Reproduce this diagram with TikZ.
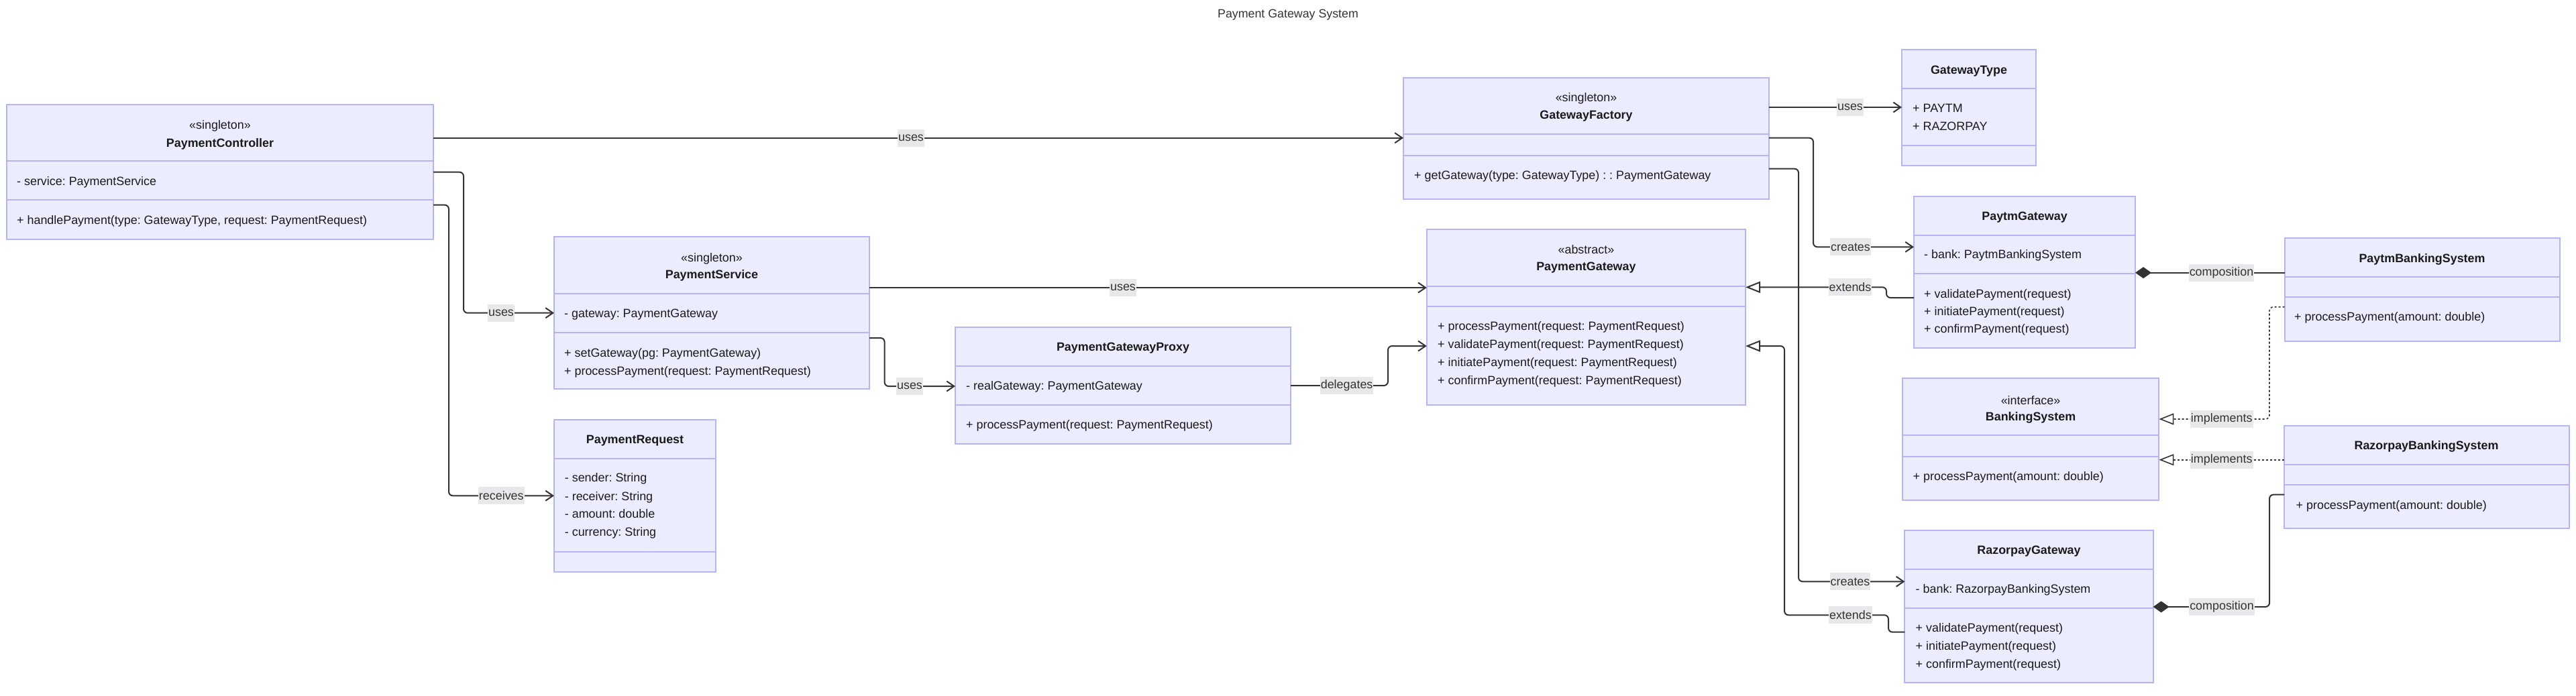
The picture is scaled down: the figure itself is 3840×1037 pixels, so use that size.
\documentclass[tikz,border=0pt]{standalone}
\usepackage{fontspec}
\setmainfont{Liberation Sans}
\usetikzlibrary{arrows.meta}
\frenchspacing
\definecolor{boxfill}{HTML}{ECECFF}
\definecolor{boxline}{HTML}{B5B5F4}
\definecolor{lnk}{HTML}{333333}
\definecolor{lblbg}{HTML}{E8E8EA}
\definecolor{txt}{HTML}{1A1A1A}
\tikzset{
 classbox/.style={draw=boxline, fill=boxfill, line width=2pt, inner sep=0pt, outer sep=0pt, anchor=north west},
 divider/.style={draw=boxline, line width=2pt},
 ttl/.style={font=\fontsize{17.9}{21}\selectfont\bfseries, text=txt, inner sep=0pt},
 stereo/.style={font=\fontsize{17.9}{21}\selectfont, text=txt, inner sep=0pt},
 memtxt/.style={font=\fontsize{17.9}{21}\selectfont, text=txt, inner sep=0pt, anchor=west, text height=13pt, text depth=4pt},
 link/.style={draw=lnk, line width=2pt, rounded corners=6pt},
 dep/.style={link, -{Straight Barb[length=11pt,width=15pt]}},
 gen/.style={link, -{Triangle[length=22pt,width=17pt,fill=white]}},
 real/.style={link, line width=1.6pt, dash pattern=on 3pt off 3pt, -{Triangle[length=22pt,width=17pt,fill=white,line width=1.6pt]}},
 comp/.style={link, {Diamond[length=24pt,width=17pt]}-},
 lbl/.style={fill=lblbg, font=\fontsize{17.9}{21}\selectfont, text=lnk, inner xsep=1pt, inner ysep=0pt, minimum height=26pt},
}
\newcommand{\umlbox}[7]{%
 \node[classbox, minimum width={(#4-#2)*1pt}, minimum height={(#5-#3)*1pt}] (#1) at (#2,#3) {};
 \draw[divider] (#1.west |- 0,#6) -- (#1.east |- 0,#6);
 \draw[divider] (#1.west |- 0,#7) -- (#1.east |- 0,#7);
}
\newcommand{\mem}[4]{\node[memtxt] (#1) at (#2,#3) {#4};}
\begin{document}
\begin{tikzpicture}[x=1pt,y=-1pt]
\useasboundingbox (0,0) rectangle (3840,1037);
\node[font=\fontsize{17.8}{21}\selectfont, text=lnk, inner sep=0pt] (title) at (1920,22) {Payment Gateway System};

% ---------- class boxes ----------
\umlbox{pc}{10}{155.7}{646}{356.7}{240}{298.3}
\umlbox{gf}{2092}{115.7}{2637}{296.7}{200}{231.7}
\umlbox{gt}{2835}{74}{3034.5}{247.3}{131.7}{216.7}
\umlbox{ps}{826}{353.3}{1296}{580}{438.3}{495.7}
\umlbox{preq}{826}{625.7}{1067}{853.3}{683.7}{822.7}
\umlbox{proxy}{1424}{488.3}{1924}{662}{546}{604}
\umlbox{pg}{2126.8}{341.7}{2602}{604}{426.7}{457.3}
\umlbox{paytm}{2853}{292.7}{3183}{519.3}{350.7}{408.3}
\umlbox{pbank}{3405.6}{355}{3815.5}{509}{412.7}{443.3}
\umlbox{bank}{2835.7}{564.3}{3218.4}{746}{649.3}{680.7}
\umlbox{rbank}{3405}{635}{3829.7}{788}{692.7}{723.3}
\umlbox{razor}{2839.4}{791}{3209.6}{1018.3}{849.3}{906.7}

% ---------- titles ----------
\node[stereo] (pc-s) at (328,188.3) {«singleton»};
\node[ttl] (pc-t) at (328,215) {PaymentController};
\node[stereo] (gf-s) at (2364.5,147.3) {«singleton»};
\node[ttl] (gf-t) at (2364.5,173.3) {GatewayFactory};
\node[ttl] (gt-t) at (2935,105.7) {GatewayType};
\node[stereo] (ps-s) at (1061,385.7) {«singleton»};
\node[ttl] (ps-t) at (1061,411) {PaymentService};
\node[ttl] (preq-t) at (946.5,657.3) {PaymentRequest};
\node[ttl] (proxy-t) at (1674,519.3) {PaymentGatewayProxy};
\node[stereo] (pg-s) at (2364.4,372.3) {«abstract»};
\node[ttl] (pg-t) at (2364.4,399.3) {PaymentGateway};
\node[ttl] (paytm-t) at (3018,324.3) {PaytmGateway};
\node[ttl] (pbank-t) at (3610.5,386.7) {PaytmBankingSystem};
\node[stereo] (bank-s) at (3027,597.3) {«interface»};
\node[ttl] (bank-t) at (3027,623.3) {BankingSystem};
\node[ttl] (rbank-t) at (3617,666) {RazorpayBankingSystem};
\node[ttl] (razor-t) at (3024.5,822.3) {RazorpayGateway};

% ---------- members ----------
\mem{pc-a1}{25}{272.3}{- service: PaymentService}
\mem{pc-m1}{25}{330}{+ handlePayment(type: GatewayType, request: PaymentRequest)}
\mem{gf-m1}{2108}{262.7}{+ getGateway(type: GatewayType) : : PaymentGateway}
\mem{gt-a1}{2851}{162.7}{+ PAYTM}
\mem{gt-a2}{2851}{190}{+ RAZORPAY}
\mem{ps-a1}{841}{469}{- gateway: PaymentGateway}
\mem{ps-m1}{841}{528.3}{+ setGateway(pg: PaymentGateway)}
\mem{ps-m2}{841}{555}{+ processPayment(request: PaymentRequest)}
\mem{preq-a1}{841.7}{714}{- sender: String}
\mem{preq-a2}{841.7}{741.7}{- receiver: String}
\mem{preq-a3}{841.7}{768.3}{- amount: double}
\mem{preq-a4}{841.7}{795}{- currency: String}
\mem{proxy-a1}{1440}{577.3}{- realGateway: PaymentGateway}
\mem{proxy-m1}{1440}{635}{+ processPayment(request: PaymentRequest)}
\mem{pg-m1}{2143}{487.7}{+ processPayment(request: PaymentRequest)}
\mem{pg-m2}{2143}{515}{+ validatePayment(request: PaymentRequest)}
\mem{pg-m3}{2143}{542.3}{+ initiatePayment(request: PaymentRequest)}
\mem{pg-m4}{2143}{569}{+ confirmPayment(request: PaymentRequest)}
\mem{paytm-a1}{2868}{381}{- bank: PaytmBankingSystem}
\mem{paytm-m1}{2868}{440}{+ validatePayment(request)}
\mem{paytm-m2}{2868}{466}{+ initiatePayment(request)}
\mem{paytm-m3}{2868}{492.3}{+ confirmPayment(request)}
\mem{pbank-m1}{3420}{474.3}{+ processPayment(amount: double)}
\mem{bank-m1}{2851.5}{711.7}{+ processPayment(amount: double)}
\mem{rbank-m1}{3422.5}{755}{+ processPayment(amount: double)}
\mem{razor-a1}{2855.5}{880}{- bank: RazorpayBankingSystem}
\mem{razor-m1}{2855.5}{938.3}{+ validatePayment(request)}
\mem{razor-m2}{2855.5}{965}{+ initiatePayment(request)}
\mem{razor-m3}{2855.5}{992.3}{+ confirmPayment(request)}

% ---------- connectors ----------
\draw[dep] (pc.east |- 0,205.7) -- (gf.west |- 0,205.7);
\draw[dep] (pc.east |- 0,256.7) -- (691,256.7) -- (691,466.7) -- (ps.west |- 0,466.7);
\draw[dep] (pc.east |- 0,305.7) -- (669,305.7) -- (669,739.3) -- (preq.west |- 0,739.3);
\draw[dep] (ps.east |- 0,429) -- (pg.west |- 0,429);
\draw[dep] (ps.east |- 0,504) -- (1318.6,504) -- (1318.6,576) -- (proxy.west |- 0,576);
\draw[dep] (proxy.east |- 0,575) -- (2069,575) -- (2069,516) -- (pg.west |- 0,516);
\draw[dep] (gf.east |- 0,160) -- (gt.west |- 0,160);
\draw[dep] (gf.east |- 0,205.7) -- (2703,205.7) -- (2703,368.3) -- (paytm.west |- 0,368.3);
\draw[dep] (gf.east |- 0,251.7) -- (2681,251.7) -- (2681,867.3) -- (razor.west |- 0,867.3);
\draw[gen] (paytm.west |- 0,444) -- (2812,444) -- (2812,428.3) -- (pg.east |- 0,428.3);
\draw[gen] (razor.west |- 0,942.7) -- (2815,942.7) -- (2815,917.3) -- (2660,917.3) -- (2660,516) -- (pg.east |- 0,516);
\draw[comp] (paytm.east |- 0,406.7) -- (pbank.west |- 0,406.7);
\draw[comp] (razor.east |- 0,905) -- (3383,905) -- (3383,737.7) -- (rbank.west |- 0,737.7);
\draw[real] (pbank.west |- 0,457.7) -- (3383,457.7) -- (3383,625) -- (bank.east |- 0,625);
\draw[real] (rbank.west |- 0,685.7) -- (bank.east |- 0,685.7);

% ---------- labels ----------
\node[lbl] (lb1) at (1358,205.7) {uses};
\node[lbl] (lb2) at (747,466.7) {uses};
\node[lbl] (lb3) at (747.3,739.3) {receives};
\node[lbl] (lb4) at (1674,429) {uses};
\node[lbl] (lb5) at (1356,576) {uses};
\node[lbl] (lb6) at (2007.6,575) {delegates};
\node[lbl] (lb7) at (2758,160) {uses};
\node[lbl] (lb8) at (2758.5,368.3) {creates};
\node[lbl] (lb9) at (2758,867.3) {creates};
\node[lbl] (lb10) at (2758,428.3) {extends};
\node[lbl] (lb11) at (2758.4,917.3) {extends};
\node[lbl] (lb12) at (3311.5,406.7) {composition};
\node[lbl] (lb13) at (3312,905) {composition};
\node[lbl] (lb14) at (3311.7,625) {implements};
\node[lbl] (lb15) at (3311.7,685.7) {implements};
\end{tikzpicture}
\end{document}
